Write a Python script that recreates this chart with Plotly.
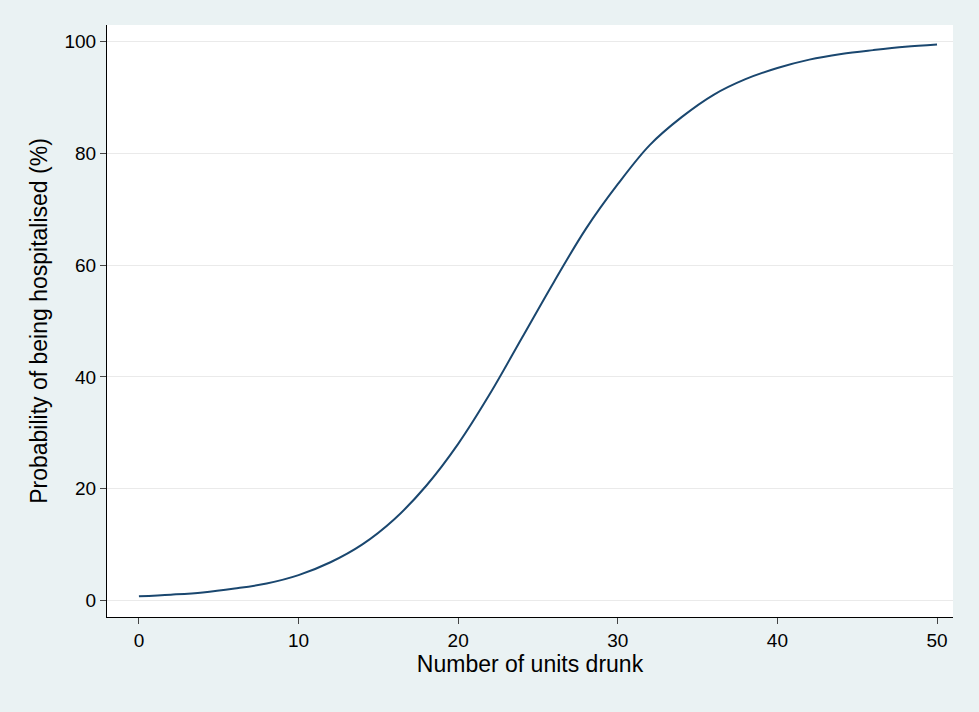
import plotly.graph_objs as go

# values
units = [0, 2, 4, 6, 8, 10, 12, 14, 16, 18, 20, 22, 24, 26, 28, 30, 32, 34, 36, 38, 40, 42, 44, 46, 48, 50]
prob = [0.7, 1.0, 1.4, 2.1, 3.0, 4.5, 6.8, 10.0, 14.5, 20.5, 28.0, 37.0, 47.0, 57.0, 66.5, 74.5,
        81.5, 86.5, 90.5, 93.3, 95.3, 96.8, 97.8, 98.5, 99.1, 99.5]

fig = go.Figure()
fig.add_trace(go.Scatter(x=units, y=prob, mode='lines', line=dict(color='#1a476f', width=2, shape='spline')))

fig.update_layout(
    width=963, height=696,
    paper_bgcolor='#eaf2f3', plot_bgcolor='white',
    margin=dict(l=99, r=18, t=17, b=87),
    font=dict(family='Liberation Sans, Arial', size=19, color='black'),
    showlegend=False,
    xaxis=dict(title=dict(text='Number of units drunk', standoff=6), range=[-2, 51],
               tickvals=[0, 10, 20, 30, 40, 50], showgrid=False, zeroline=False,
               showline=True, linecolor='black', ticks='outside', ticklen=6),
    yaxis=dict(title=dict(text='Probability of being hospitalised (%)', standoff=10), range=[-3, 103],
               tickvals=[0, 20, 40, 60, 80, 100], showgrid=True, gridcolor='#eaeaea', zeroline=False,
               showline=True, linecolor='black', ticks='outside', ticklen=6),
)

fig.write_html("out.html", post_script="document.body.style.background='#eaf2f3';")
